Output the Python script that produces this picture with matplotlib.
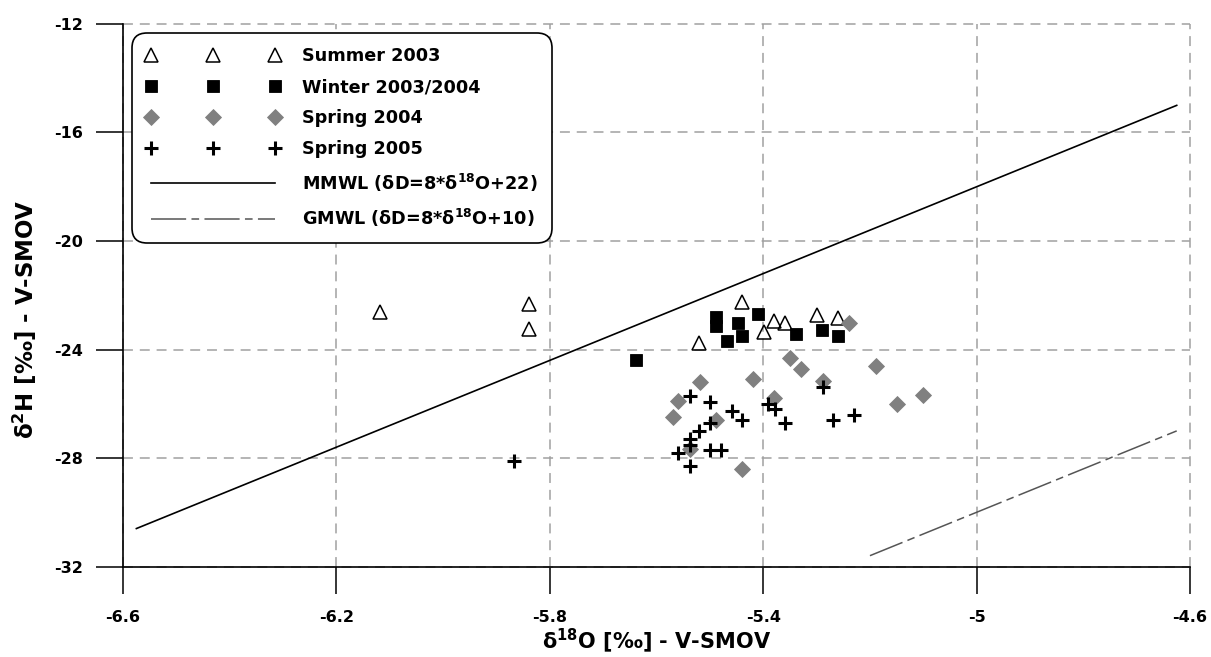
import matplotlib
matplotlib.use("Agg")
import matplotlib.pyplot as plt

# Summer 2003 (open triangles)
summer_x = [-6.118, -5.839, -5.839, -5.521, -5.440, -5.398, -5.380, -5.359, -5.300, -5.260]
summer_y = [-22.63, -22.33, -23.25, -23.75, -22.25, -23.35, -22.95, -23.02, -22.74, -22.82]

# Winter 2003/2004 (black squares)
winter_x = [-5.639, -5.488, -5.488, -5.468, -5.448, -5.439, -5.409, -5.339, -5.289, -5.259]
winter_y = [-24.40, -22.79, -23.12, -23.70, -23.01, -23.50, -22.70, -23.41, -23.29, -23.50]

# Spring 2004 (grey diamonds)
spring04_x = [-5.570, -5.559, -5.538, -5.518, -5.488, -5.440, -5.420, -5.380,
              -5.350, -5.330, -5.288, -5.240, -5.189, -5.150, -5.101]
spring04_y = [-26.49, -25.90, -27.66, -25.20, -26.61, -28.40, -25.10, -25.78,
              -24.30, -24.71, -25.16, -23.01, -24.61, -26.00, -25.69]

# Spring 2005 (plus)
spring05_x = [-5.868, -5.559, -5.538, -5.538, -5.538, -5.538, -5.520, -5.500, -5.500,
              -5.500, -5.480, -5.459, -5.439, -5.392, -5.378, -5.359, -5.288, -5.270, -5.230]
spring05_y = [-28.11, -27.80, -25.72, -27.29, -27.53, -28.30, -27.01, -25.94, -26.71,
              -27.72, -27.72, -26.28, -26.61, -26.00, -26.20, -26.71, -25.38, -26.61, -26.40]

# meteoric water lines (end points)
mmwl_x = [-6.575, -4.625]
mmwl_y = [-30.60, -15.00]
gmwl_x = [-5.200, -4.625]
gmwl_y = [-31.60, -27.00]

xticks = [-6.6, -6.2, -5.8, -5.4, -5.0, -4.6]
xtick_labels = ["-6.6", "-6.2", "-5.8", "-5.4", "-5", "-4.6"]
yticks = [-32, -28, -24, -20, -16, -12]
ytick_labels = ["-32", "-28", "-24", "-20", "-16", "-12"]

plt.rcParams.update({
    "font.family": "DejaVu Sans",
    "font.weight": "bold",
    "mathtext.fontset": "dejavusans",
    "mathtext.default": "bf",
    "axes.unicode_minus": False,
})

fig = plt.figure(figsize=(12.11, 6.57), dpi=100)
ax = fig.add_axes([0.1016, 0.1377, 0.8811, 0.8258])

ax.plot(summer_x, summer_y, linestyle="none", marker="^", ms=10, mfc="none",
        mec="black", mew=1.1, label="Summer 2003", zorder=3)
ax.plot(winter_x, winter_y, linestyle="none", marker="s", ms=8.6, mfc="black",
        mec="black", mew=0.6, label="Winter 2003/2004", zorder=3)
ax.plot(spring04_x, spring04_y, linestyle="none", marker="D", ms=8.3, mfc="#808080",
        mec="#808080", mew=0.6, label="Spring 2004", zorder=3)
ax.plot(spring05_x, spring05_y, linestyle="none", marker="+", ms=10.5, mec="black",
        mew=2.2, label="Spring 2005", zorder=4)
ax.plot(mmwl_x, mmwl_y, color="black", lw=1.2,
        label="MMWL (δD=8*δ$^{18}$O+22)", zorder=2)
ax.plot(gmwl_x, gmwl_y, color="#555555", lw=1.1, linestyle=(0, (23, 3.5, 5, 3.5)),
        label="GMWL (δD=8*δ$^{18}$O+10)", zorder=2)

ax.set_xlim(-6.6, -4.6)
ax.set_ylim(-32, -12)
ax.set_xticks(xticks)
ax.set_xticklabels(xtick_labels)
ax.set_yticks(yticks)
ax.set_yticklabels(ytick_labels)

for side in ("top", "right"):
    ax.spines[side].set_visible(False)
for side in ("left", "bottom"):
    ax.spines[side].set_linewidth(1.2)

ax.tick_params(axis="both", direction="out", length=19.5, width=1.1,
               labelsize=11.5, color="black")
ax.tick_params(axis="y", pad=9)
ax.tick_params(axis="x", pad=12)

ax.grid(True, color="#a0a0a0", lw=1.1, linestyle=(0, (6.5, 4.5)))
ax.set_axisbelow(True)
for gl in ax.get_xgridlines() + ax.get_ygridlines():
    gl.set_clip_on(False)

ax.set_xlabel("δ$^{18}$O [‰] - V-SMOV", fontsize=15, fontweight="bold", labelpad=1)
ax.set_ylabel("δ$^{2}$H [‰] - V-SMOV", fontsize=16.5, fontweight="bold")
ax.yaxis.set_label_coords(-0.079, 0.455)

leg = ax.legend(loc="upper left", bbox_to_anchor=(0.0084, 0.983), borderaxespad=0,
                numpoints=3, handlelength=7.6, handletextpad=1.25, labelspacing=0.74,
                borderpad=0.8, fancybox=True, framealpha=1, edgecolor="black",
                prop=dict(size=12.7, weight="bold"))
leg.get_frame().set_linewidth(1.2)
leg.get_frame().set_boxstyle("round", pad=0, rounding_size=0.85)

fig.savefig("out.png", dpi=100, facecolor="white")
